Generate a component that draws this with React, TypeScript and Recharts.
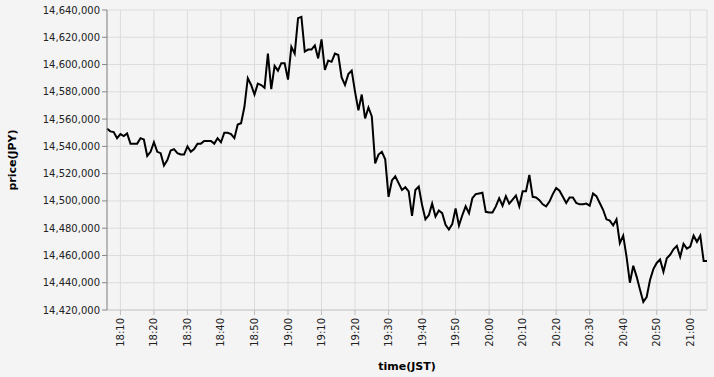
import React from 'react';
import { LineChart, Line, XAxis, YAxis, CartesianGrid } from 'recharts';

const times = [
  '18:06','18:07','18:08','18:09','18:10','18:11','18:12','18:13','18:14','18:15','18:16','18:17','18:18','18:19',
  '18:20','18:21','18:22','18:23','18:24','18:25','18:26','18:27','18:28','18:29',
  '18:30','18:31','18:32','18:33','18:34','18:35','18:36','18:37','18:38','18:39',
  '18:40','18:41','18:42','18:43','18:44','18:45','18:46','18:47','18:48','18:49',
  '18:50','18:51','18:52','18:53','18:54','18:55','18:56','18:57','18:58','18:59',
  '19:00','19:01','19:02','19:03','19:04','19:05','19:06','19:07','19:08','19:09',
  '19:10','19:11','19:12','19:13','19:14','19:15','19:16','19:17','19:18','19:19',
  '19:20','19:21','19:22','19:23','19:24','19:25','19:26','19:27','19:28','19:29',
  '19:30','19:31','19:32','19:33','19:34','19:35','19:36','19:37','19:38','19:39',
  '19:40','19:41','19:42','19:43','19:44','19:45','19:46','19:47','19:48','19:49',
  '19:50','19:51','19:52','19:53','19:54','19:55','19:56','19:57','19:58','19:59',
  '20:00','20:01','20:02','20:03','20:04','20:05','20:06','20:07','20:08','20:09',
  '20:10','20:11','20:12','20:13','20:14','20:15','20:16','20:17','20:18','20:19',
  '20:20','20:21','20:22','20:23','20:24','20:25','20:26','20:27','20:28','20:29',
  '20:30','20:31','20:32','20:33','20:34','20:35','20:36','20:37','20:38','20:39',
  '20:40','20:41','20:42','20:43','20:44','20:45','20:46','20:47','20:48','20:49',
  '20:50','20:51','20:52','20:53','20:54','20:55','20:56','20:57','20:58','20:59',
  '21:00','21:01','21:02','21:03','21:04','21:05',
];

const prices = [
  14553000, 14551000, 14550500, 14546000, 14549000, 14547500, 14549500, 14542000, 14542000, 14542000,
  14546000, 14545000, 14533000, 14536000, 14543000, 14536000, 14535000, 14526000, 14530000, 14537000,
  14538000, 14535000, 14534000, 14534000, 14540000, 14536000, 14538000, 14542000, 14542000, 14544000,
  14544000, 14544000, 14542000, 14546000, 14543000, 14550000, 14550000, 14549000, 14546000, 14556000,
  14557000,
  14569000, 14590000, 14585000, 14578000, 14586000, 14585000, 14583000, 14608000, 14582000, 14599000,
  14595500, 14601000, 14601000, 14589000, 14613000, 14608000, 14634000, 14635000, 14609500, 14611000,
  14611000, 14614000, 14604500, 14618500, 14596000, 14603000, 14602000, 14608000, 14607000, 14590500,
  14585000, 14593000, 14595500, 14580000, 14566500, 14578000, 14560500, 14568500, 14562000, 14527500,
  14534000, 14536000, 14530500, 14503000, 14515000, 14518000, 14513000, 14508000, 14510000, 14507000,
  14489000,
  14508000, 14510500, 14497000, 14486500, 14489500, 14498000, 14488500, 14493000, 14491000, 14482500,
  14479000, 14483000, 14494500, 14482000, 14489500, 14496000, 14491000, 14502000, 14505000, 14505500,
  14506000, 14492000, 14491500, 14491500, 14496000, 14502000, 14496500, 14503500, 14498000, 14501000,
  14504000, 14496000, 14507000, 14507000, 14519000, 14503000, 14502500, 14500500, 14497500, 14496000,
  14499500, 14505000, 14509500, 14507500,
  14503000, 14498500, 14502500, 14502500, 14498500, 14497500, 14497500, 14498000, 14496500, 14505500,
  14503500, 14498500, 14493500, 14486500, 14485500, 14482000, 14486500, 14469000, 14474500, 14459000,
  14440000, 14452500, 14444500, 14435000, 14426000, 14429500, 14442000, 14450000, 14454500, 14457000,
  14448000, 14458000, 14460500, 14464500, 14467000, 14459000, 14468500, 14465000, 14466500, 14474500,
  14470000, 14474500, 14456000, 14456000,
];

const xTickLabels = [
  '18:10','18:20','18:30','18:40','18:50','19:00','19:10','19:20','19:30',
  '19:40','19:50','20:00','20:10','20:20','20:30','20:40','20:50','21:00',
];

const yTicks = [
  14420000, 14440000, 14460000, 14480000, 14500000, 14520000,
  14540000, 14560000, 14580000, 14600000, 14620000, 14640000,
];

const toMin = (s: string) => {
  const [h, m] = s.split(':').map(Number);
  return h * 60 + m;
};
const fmtMin = (v: number) => `${Math.floor(v / 60)}:${String(Math.round(v) % 60).padStart(2, '0')}`;

const data = times.map((t, i) => ({ t: toMin(t), price: prices[i] }));
const xTicks = xTickLabels.map(toMin);
const xDomain = [toMin(times[0]), toMin(times[times.length - 1])];

const FONT = 'DejaVu Sans, sans-serif';

const XTick = (props: any) => {
  const { x, y, payload } = props;
  return (
    <g transform={`translate(${x},${y})`}>
      <text
        x={0}
        y={0}
        dy="0.35em"
        transform="rotate(-90)"
        textAnchor="end"
        fontFamily={FONT}
        fontSize={10}
        fill="#222"
      >
        {fmtMin(payload.value)}
      </text>
    </g>
  );
};

const YTitle = (props: any) => {
  const vb = props.viewBox || { x: 0, y: 10, width: 107, height: 300 };
  const cx = 16;
  const cy = vb.y + vb.height / 2;
  return (
    <text
      x={cx}
      y={cy}
      transform={`rotate(-90, ${cx}, ${cy})`}
      textAnchor="middle"
      fontFamily={FONT}
      fontWeight="bold"
      fontSize={11}
      fill="#000"
    >
      price(JPY)
    </text>
  );
};

const XTitle = (props: any) => {
  const vb = props.viewBox || { x: 107, y: 310, width: 600, height: 67 };
  return (
    <text
      x={vb.x + vb.width / 2}
      y={370}
      textAnchor="middle"
      fontFamily={FONT}
      fontWeight="bold"
      fontSize={11}
      fill="#000"
    >
      time(JST)
    </text>
  );
};

export default function App() {
  return (
    <div
      style={{
        position: 'absolute',
        left: 0,
        top: 0,
        width: 714,
        height: 377,
        background: '#f4f4f4',
      }}
    >
      <LineChart
        width={714}
        height={377}
        data={data}
        margin={{ top: 10, right: 7, bottom: 0, left: 0 }}
      >
        <CartesianGrid stroke="#dcdcdc" strokeWidth={1} />
        <XAxis
          dataKey="t"
          type="number"
          domain={xDomain}
          ticks={xTicks}
          interval={0}
          height={67}
          tickSize={5}
          tickMargin={3}
          axisLine={{ stroke: '#cccccc' }}
          tickLine={{ stroke: '#bbbbbb' }}
          tick={<XTick />}
          label={{ content: (p: any) => <XTitle {...p} /> }}
        />
        <YAxis
          type="number"
          domain={[14420000, 14640000]}
          ticks={yTicks}
          interval={0}
          width={107}
          tickSize={5}
          tickMargin={2}
          axisLine={{ stroke: '#888888' }}
          tickLine={{ stroke: '#888888' }}
          tick={{ fontFamily: FONT, fontSize: 10, fill: '#222' }}
          tickFormatter={(v: number) => v.toLocaleString('en-US')}
          label={{ content: (p: any) => <YTitle {...p} /> }}
        />
        <Line
          type="linear"
          dataKey="price"
          stroke="#000000"
          strokeWidth={2}
          dot={false}
          isAnimationActive={false}
        />
      </LineChart>
    </div>
  );
}
